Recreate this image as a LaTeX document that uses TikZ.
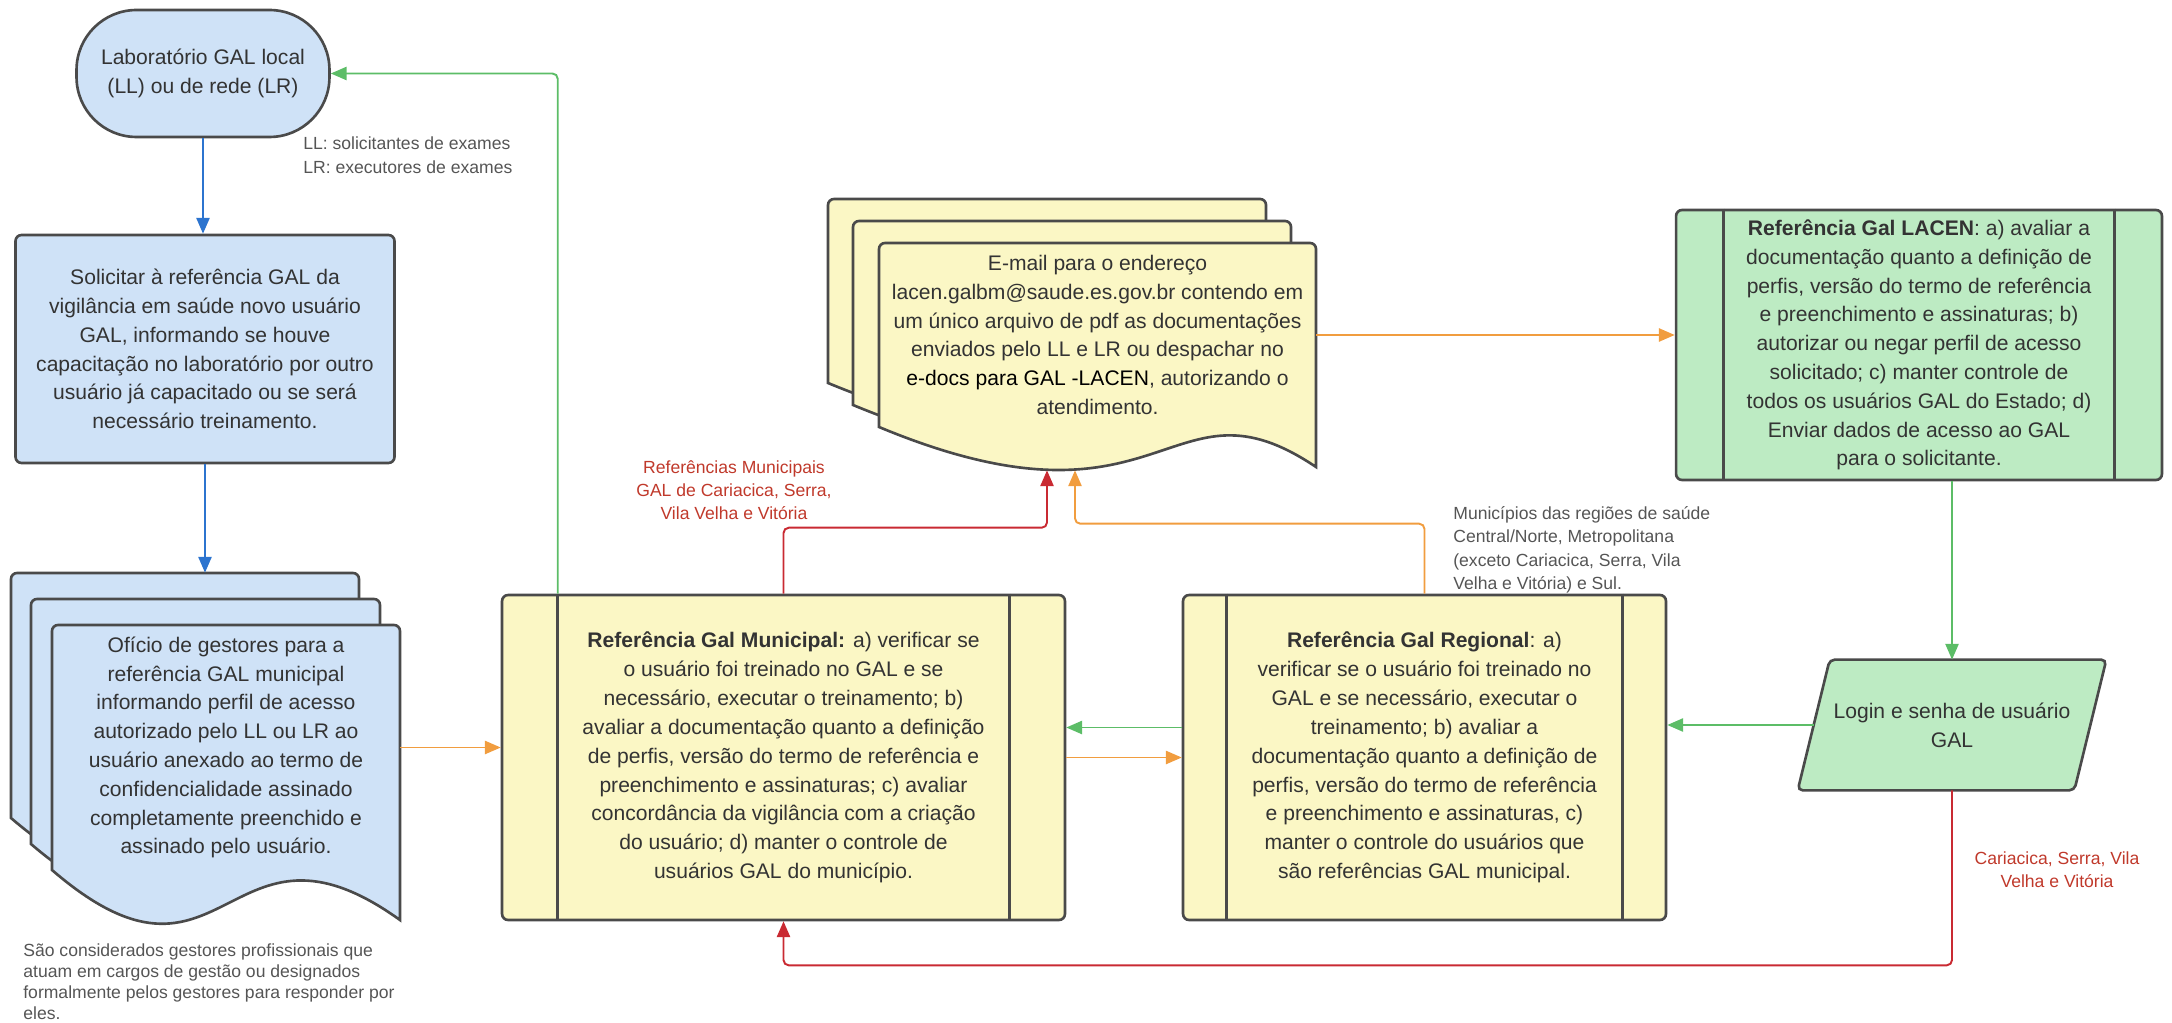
\documentclass[tikz,border=0pt]{standalone}
\usepackage{fontspec}
\setmainfont{Liberation Sans}
\usetikzlibrary{arrows.meta,backgrounds}

\definecolor{bluefill}{HTML}{CFE2F7}
\definecolor{yellowfill}{HTML}{FBF7C5}
\definecolor{greenfill}{HTML}{BDEBC3}
\definecolor{edgegray}{HTML}{4A4A4A}
\definecolor{textgray}{HTML}{333333}
\definecolor{notegray}{HTML}{555555}
\definecolor{lineblue}{HTML}{2C74CF}
\definecolor{linegreen}{HTML}{5CBD67}
\definecolor{lineorange}{HTML}{F19D3F}
\definecolor{linered}{HTML}{C92A32}
\definecolor{notered}{HTML}{C0392B}

% one sheet of a document stack: x left, y top, x right, y bottom left, wave depth, fill, wave position
\newcommand{\docsheet}[7]{%
  \draw[boxline, fill=#6] (#1,#4) [rounded corners=0.12cm] -- (#1,#2) -- (#3,#2)
    [sharp corners] -- (#3,{#4+#5})
    .. controls ({#1+#7*(#3-#1)},{#4-1.5*#5}) and ({#1+#7*(#3-#1)},{#4+3*#5}) .. (#1,#4) -- cycle;}

\tikzset{
  boxline/.style={draw=edgegray, line width=1.5pt},
  box/.style={boxline, rounded corners=0.12cm, inner sep=0pt, align=center, text=textgray},
  doctext/.style={inner sep=0pt, align=center, text=textgray},
  note/.style={font=\fontsize{10}{13.4}\selectfont, text=notegray, align=left, inner sep=0pt},
  rednote/.style={font=\fontsize{10}{13.2}\selectfont, text=notered, align=center, inner sep=0pt},
  flow/.style={line width=1.1pt, rounded corners=3pt, -{Triangle[length=9pt,width=7.5pt]}},
  blueflow/.style={flow, draw=lineblue},
  greenflow/.style={flow, draw=linegreen},
  orangeflow/.style={flow, draw=lineorange},
  redflow/.style={flow, draw=linered}
}

\begin{document}
\begin{tikzpicture}[x=0.02cm, y=-0.02cm, font=\fontsize{12}{16.4}\selectfont]
    % canvas, in pixels of the original
    \useasboundingbox (0,0) rectangle (2172,1023);

    % Left column
    \node[box, fill=bluefill, rounded corners=1.2cm, minimum width=5.06cm, minimum height=2.54cm]
        (lab) at (203,73.5) {Laboratório GAL local\\(LL) ou de rede (LR)};
    \node[box, fill=bluefill, minimum width=7.58cm, minimum height=4.56cm] (sol) at (205,349)
        {Solicitar à referência GAL da\\vigilância em saúde novo usuário\\GAL, informando se houve\\capacitação no laboratório por outro\\usuário já capacitado ou se será\\necessário treinamento.};
    \node[doctext, minimum width=6.96cm, minimum height=4.9cm] (ofi) at (226,747.5)
        {Ofício de gestores para a\\referência GAL municipal\\informando perfil de acesso\\autorizado pelo LL ou LR ao\\usuário anexado ao termo de\\confidencialidade assinado\\completamente preenchido e\\assinado pelo usuário.};

    % Process boxes
    \node[box, fill=yellowfill, minimum width=11.26cm, minimum height=6.5cm] (mun) at (783.5,757.5)
        {\textbf{Referência Gal Municipal:} a) verificar se\\o usuário foi treinado no GAL e se\\necessário, executar o treinamento; b)\\avaliar a documentação quanto a definição\\de perfis, versão do termo de referência e\\preenchimento e assinaturas; c) avaliar\\concordância da vigilância com a criação\\do usuário; d) manter o controle de\\usuários GAL do município.};
    \node[box, fill=yellowfill, minimum width=9.66cm, minimum height=6.5cm] (reg) at (1424.5,757.5)
        {\textbf{Referência Gal Regional}: a)\\verificar se o usuário foi treinado no\\GAL e se necessário, executar o\\treinamento; b) avaliar a\\documentação quanto a definição de\\perfis, versão do termo de referência\\e preenchimento e assinaturas, c)\\manter o controle do usuários que\\são referências GAL municipal.};
    \node[box, fill=greenfill, minimum width=9.72cm, minimum height=5.4cm] (lacen) at (1919,345)
        {\textbf{Referência Gal LACEN}: a) avaliar a\\documentação quanto a definição de\\perfis, versão do termo de referência\\e preenchimento e assinaturas; b)\\autorizar ou negar perfil de acesso\\solicitado; c) manter controle de\\todos os usuários GAL do Estado; d)\\Enviar dados de acesso ao GAL\\para o solicitante.};
    \node[doctext, minimum width=8.74cm, minimum height=3.68cm] (mail) at (1097.5,335)
        {E-mail para o endereço\\lacen.galbm@saude.es.gov.br contendo em\\um único arquivo de pdf as documentações\\enviados pelo LL e LR ou despachar no\\{\color{black}e-docs para GAL -LACEN}, autorizando o\\atendimento.};
    \node[doctext, minimum width=5.52cm, minimum height=2.6cm] (login) at (1952,725)
        {Login e senha de usuário\\GAL};

    % side bars of the process boxes
    \foreach \n/\o in {mun/1.14cm, reg/0.9cm, lacen/0.98cm}{
        \draw[boxline] ([xshift=\o]\n.north west) -- ([xshift=\o]\n.south west);
        \draw[boxline] ([xshift=-\o]\n.north east) -- ([xshift=-\o]\n.south east);
    }

    % Document stacks and input shape
    \begin{pgfonlayer}{background}
        \docsheet{11}{573}{359}{818}{50}{bluefill}{0.5}
        \docsheet{31}{599}{380}{844}{50}{bluefill}{0.5}
        \docsheet{52}{625}{400}{870}{50}{bluefill}{0.5}
        \docsheet{828}{199}{1266}{383}{40}{yellowfill}{0.66}
        \docsheet{853}{221}{1291}{405}{40}{yellowfill}{0.66}
        \docsheet{879}{243}{1316}{427}{40}{yellowfill}{0.66}
        \draw[boxline, fill=greenfill, rounded corners=0.1cm]
            ([xshift=-0.32cm]login.south west) -- ([xshift=0.32cm]login.north west)
            -- ([xshift=0.32cm]login.north east) -- ([xshift=-0.32cm]login.south east) -- cycle;
    \end{pgfonlayer}

    %Labels
    \node[note, anchor=west] (llnote) at (303,155) {LL: solicitantes de exames\\LR: executores de exames};
    \node[note, anchor=west] (munnote) at (1453,550)
        {Municípios das regiões de saúde\\Central/Norte, Metropolitana\\(exceto Cariacica, Serra, Vila\\Velha e Vitória) e Sul.};
    \node[rednote] (refnote) at (734,490) {Referências Municipais\\GAL de Cariacica, Serra,\\Vila Velha e Vitória};
    \node[rednote] (carnote) at (2057,870) {Cariacica, Serra, Vila\\Velha e Vitória};
    \node[note, anchor=north west, font=\fontsize{10}{12}\selectfont] (gestnote) at (23,943)
        {São considerados gestores profissionais que\\atuam em cargos de gestão ou designados\\formalmente pelos gestores para responder por\\eles.};

    % Connectors
    \draw[blueflow] (lab.south) -- (lab.south |- sol.north);
    \draw[blueflow] (sol.south) -- ([yshift=1.04cm]sol.south |- ofi.north);
    \draw[orangeflow] (ofi.east) -- (ofi.east -| mun.west);
    \draw[orangeflow] (mun.east) -- (mun.east -| reg.west);
    \draw[orangeflow] (reg.north) -- ++(0,-70) -| ([xshift=-0.45cm,yshift=-0.86cm]mail.south);
    \draw[orangeflow] (mail.east) -- (mail.east -| lacen.west);
    \draw[redflow] (mun.north) -- ++(0,-66) -| ([xshift=-1.01cm,yshift=-0.86cm]mail.south);
    \draw[redflow] (login.south) -- ++(0,175) -| (mun.south);
    \draw[greenflow] (lacen.south -| login.north) -- (login.north);
    \draw[greenflow] (login.west) -- (login.west -| reg.east);
    \draw[greenflow] ([yshift=0.6cm]reg.west) -- ([yshift=0.6cm]mun.east);
    \draw[greenflow] ([xshift=1.14cm]mun.north west) |- (lab.east);

\end{tikzpicture}
\end{document}
